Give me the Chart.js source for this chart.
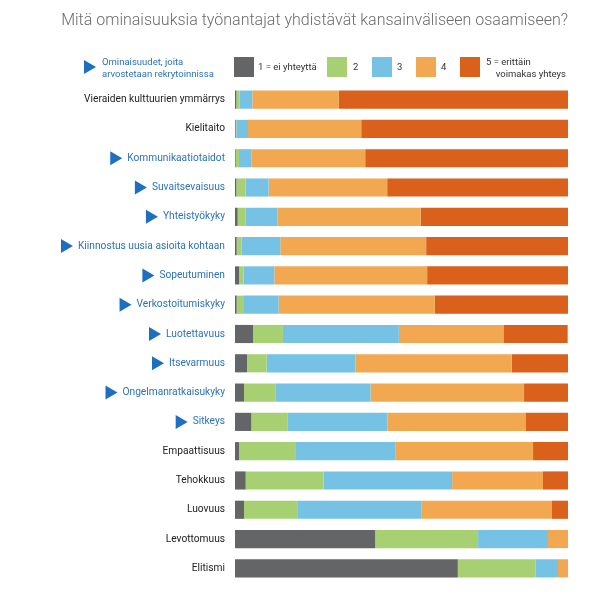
<!DOCTYPE html>
<html>
<head>
<meta charset="utf-8">
<script src="https://cdn.jsdelivr.net/npm/chart.js@4"></script>
<style>
  body { margin: 0; background: #fff; font-family: Roboto, sans-serif; }
  #wrap { position: relative; width: 604px; height: 602px; }
  #title { position: absolute; right: 36px; top: 10px; font-weight: 300; font-size: 16px; color: #6b6b6b; white-space: nowrap; }
  .lg { position: absolute; font-size: 9.5px; line-height: 12px; color: #333; white-space: nowrap; }
  .box { position: absolute; top: 57px; width: 20px; height: 20px; }
  #tri { position: absolute; left: 84px; top: 60px; width: 0; height: 0; border-top: 7px solid transparent; border-bottom: 7px solid transparent; border-left: 12px solid #1f6fc1; }
  canvas { position: absolute; left: 0; top: 0; }
</style>
</head>
<body>
<div id="wrap">
  <canvas id="chart" width="604" height="602"></canvas>
  <div id="title">Mitä ominaisuuksia työnantajat yhdistävät kansainväliseen osaamiseen?</div>
  <div id="tri"></div>
  <div class="lg" style="left:102px; top:56px; color:#2a73b8;">Ominaisuudet, joita<br>arvostetaan rekrytoinnissa</div>
  <div class="box" style="left:234px; background:#646567;"></div>
  <div class="lg" style="left:258px; top:61px;">1 = ei yhteyttä</div>
  <div class="box" style="left:327px; background:#a7d072;"></div>
  <div class="lg" style="left:353px; top:61px;">2</div>
  <div class="box" style="left:372px; background:#75c2e4;"></div>
  <div class="lg" style="left:397px; top:61px;">3</div>
  <div class="box" style="left:416px; background:#f2a851;"></div>
  <div class="lg" style="left:441px; top:61px;">4</div>
  <div class="box" style="left:460px; background:#da611b;"></div>
  <div class="lg" style="left:486px; top:56px;">5 = erittäin</div>
  <div class="lg" style="right:38px; top:68px;">voimakas yhteys</div>
</div>
<script>
// Categories (top to bottom) and which ones are marked with a triangle
const categories = [
  'Vieraiden kulttuurien ymmärrys', 'Kielitaito', 'Kommunikaatiotaidot', 'Suvaitsevaisuus',
  'Yhteistyökyky', 'Kiinnostus uusia asioita kohtaan', 'Sopeutuminen', 'Verkostoitumiskyky',
  'Luotettavuus', 'Itsevarmuus', 'Ongelmanratkaisukyky', 'Sitkeys', 'Empaattisuus',
  'Tehokkuus', 'Luovuus', 'Levottomuus', 'Elitismi'
];
const marked = [false, false, true, true, true, true, true, true, true, true, true, true, false, false, false, false, false];

// Share of answers (%) per level 1..5
const level1 = [0.4, 0.2, 0.2, 0.4, 0.8, 0.5, 1.2, 0.5, 5.4, 3.6, 2.7, 4.9, 1.2, 3.2, 2.7, 42.1, 66.9];
const level2 = [1.0, 0.2, 1.0, 2.8, 2.3, 1.5, 1.4, 2.2, 9.0, 5.9, 9.4, 10.8, 17.1, 23.4, 16.2, 30.9, 23.4];
const level3 = [3.8, 3.5, 3.7, 6.9, 9.6, 11.6, 9.2, 10.4, 34.8, 26.7, 28.6, 30.1, 29.8, 38.6, 37.0, 21.0, 6.7];
const level4 = [26.0, 34.0, 34.2, 35.6, 43.1, 43.8, 45.9, 46.9, 31.4, 46.9, 46.1, 41.4, 41.4, 27.3, 39.3, 6.0, 3.0];
const level5 = [68.8, 62.1, 60.9, 54.3, 44.2, 42.7, 42.3, 40.0, 19.3, 16.9, 13.3, 12.9, 10.5, 7.5, 4.9, 0, 0];

const labelFamily = 'Roboto, sans-serif';
const labelSize = 10.2;

// blue triangles in front of the marked labels
const trianglePlugin = {
  id: 'triangles',
  afterDraw(chart) {
    const ctx = chart.ctx;
    const y = chart.scales.y;
    ctx.save();
    ctx.font = labelSize + 'px ' + labelFamily;
    ctx.fillStyle = '#1f6fc1';
    categories.forEach((c, i) => {
      if (!marked[i]) return;
      const w = ctx.measureText(c).width;
      const yc = y.getPixelForValue(i);
      const xr = y.right - 10 - w - 5;
      ctx.beginPath();
      ctx.moveTo(xr - 12, yc - 7);
      ctx.lineTo(xr, yc);
      ctx.lineTo(xr - 12, yc + 7);
      ctx.closePath();
      ctx.fill();
    });
    ctx.restore();
  }
};

const ds = (label, data, color) => ({ label, data, backgroundColor: color, borderWidth: 0, barPercentage: 0.62, categoryPercentage: 1 });

new Chart(document.getElementById('chart'), {
  type: 'bar',
  data: {
    labels: categories,
    datasets: [
      ds('1', level1, '#646567'),
      ds('2', level2, '#a7d072'),
      ds('3', level3, '#75c2e4'),
      ds('4', level4, '#f2a851'),
      ds('5', level5, '#da611b')
    ]
  },
  options: {
    indexAxis: 'y',
    responsive: false,
    animation: false,
    layout: { padding: { top: 85, bottom: 19, right: 36, left: 0 } },
    plugins: { legend: { display: false }, tooltip: { enabled: false } },
    scales: {
      x: { stacked: true, min: 0, max: 100, display: false },
      y: {
        stacked: true,
        grid: { display: false },
        border: { display: false },
        afterFit(scale) { scale.width = 235; },
        ticks: {
          padding: 2,
          autoSkip: false,
          font: { family: labelFamily, size: labelSize },
          color: (c) => marked[c.index] ? '#2a73b8' : '#222222'
        }
      }
    }
  },
  plugins: [trianglePlugin]
});
</script>
</body>
</html>
